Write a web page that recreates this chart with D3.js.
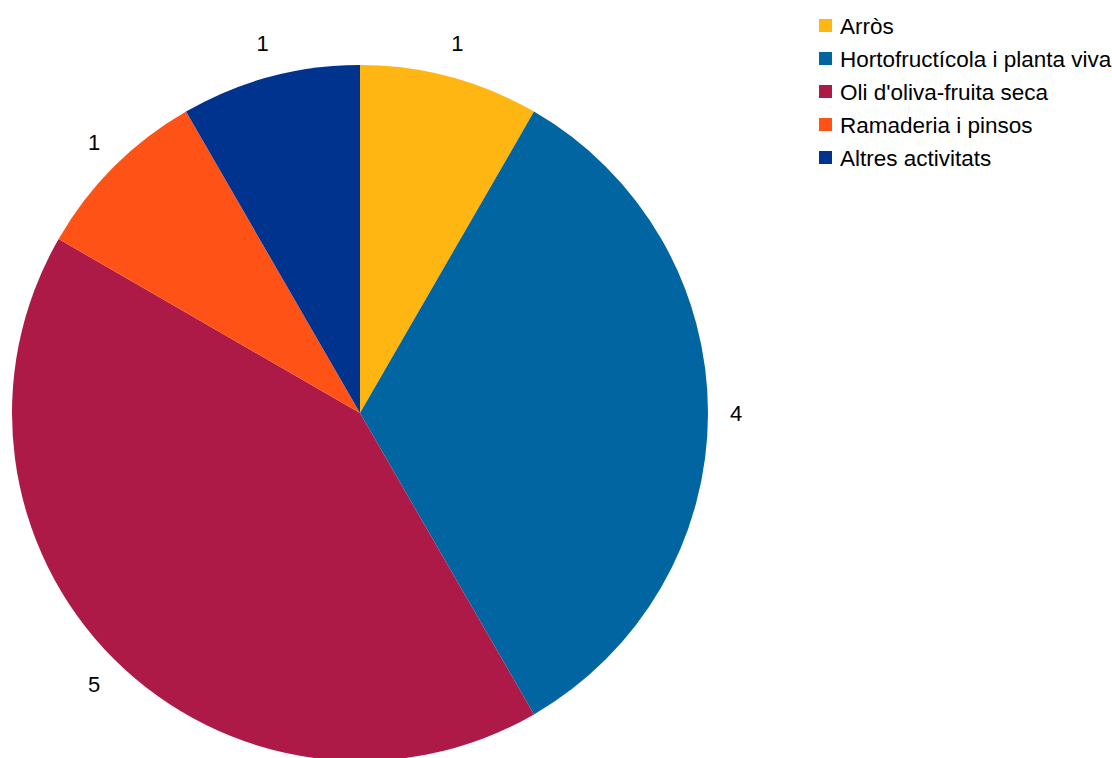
<!DOCTYPE html>
<html>
<head>
<meta charset="utf-8">
<script src="https://cdn.jsdelivr.net/npm/d3@7"></script>
<style>
body { margin: 0; background: #fff; }
text { font-family: "Liberation Sans", Arial, sans-serif; }
</style>
</head>
<body>
<svg id="chart" width="1112" height="758"></svg>
<script>
var categories = ["Arròs", "Hortofructícola i planta viva", "Oli d'oliva-fruita seca", "Ramaderia i pinsos", "Altres activitats"];
var values = [1, 4, 5, 1, 1];
var colors = ["#ffb612", "#0065a1", "#ae1a47", "#ff5216", "#00338d"];

var data = categories.map(function(c, i) { return { name: c, value: values[i], color: colors[i] }; });

var svg = d3.select("#chart");
var cx = 360, cy = 413, radius = 348;
var labelR = 370;

var pie = d3.pie()
	.sort(null)
	.value(function(d) { return d.value; });

var arc = d3.arc().innerRadius(0).outerRadius(radius);

var g = svg.append("g")
	.attr("transform", "translate(" + cx + "," + cy + ")");

var arcs = pie(data);

g.selectAll("path")
	.data(arcs)
	.enter()
	.append("path")
	.attr("fill", function(d) { return d.data.color; })
	.attr("d", arc);

// labels sit just outside the rim, pushed out by half their box
g.selectAll("text.lbl")
	.data(arcs)
	.enter()
	.append("text")
	.attr("class", "lbl")
	.attr("text-anchor", "middle")
	.attr("dy", "0.35em")
	.attr("font-size", 22)
	.attr("fill", "#000")
	.text(function(d) { return d.data.value; })
	.attr("transform", function(d) {
		var a = (d.startAngle + d.endAngle) / 2;
		var w = this.getBBox().width, h = 26;
		var x = Math.sin(a) * labelR + Math.sin(a) * w / 2;
		var y = -Math.cos(a) * labelR - Math.cos(a) * h / 2;
		return "translate(" + x + "," + y + ")";
	});

// legend
var legend = svg.append("g")
	.attr("transform", "translate(819,19)");

var item = legend.selectAll("g")
	.data(data)
	.enter()
	.append("g")
	.attr("transform", function(d, i) { return "translate(0," + (i * 33) + ")"; });

item.append("rect")
	.attr("width", 13)
	.attr("height", 13)
	.attr("fill", function(d) { return d.color; });

item.append("text")
	.attr("x", 21)
	.attr("y", 7)
	.attr("dy", "0.35em")
	.attr("font-size", 22.5)
	.attr("fill", "#000")
	.text(function(d) { return d.name; });
</script>
</body>
</html>
